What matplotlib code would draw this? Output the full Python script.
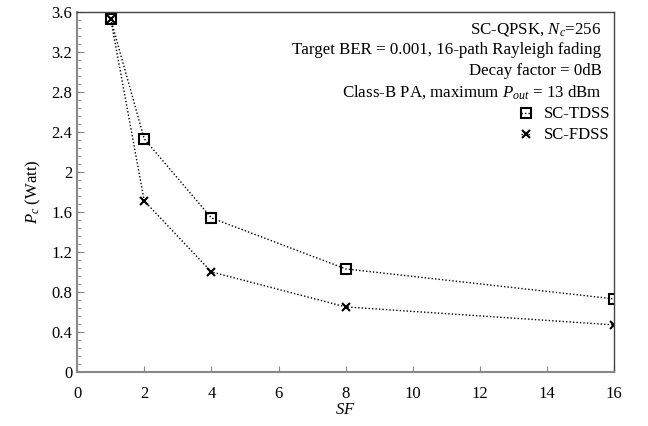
import matplotlib
matplotlib.use("Agg")
import matplotlib.pyplot as plt
from matplotlib.ticker import MultipleLocator

plt.rcParams['font.family'] = ['Liberation Serif', 'DejaVu Serif']
plt.rcParams['mathtext.fontset'] = 'custom'
plt.rcParams['mathtext.rm'] = 'Liberation Serif'
plt.rcParams['mathtext.it'] = 'Liberation Serif:italic'

sf = [1, 2, 4, 8, 16]
pc_tdss = [3.53, 2.33, 1.54, 1.03, 0.73]
pc_fdss = [3.53, 1.71, 1.00, 0.65, 0.47]

fig = plt.figure(figsize=(6.48, 4.26), dpi=100)
ax = fig.add_axes([0.119, 0.127, 0.829, 0.845])

ax.plot(sf, pc_tdss, color='black', linestyle=(0, (1, 1.5)), linewidth=1.0,
        marker='s', markersize=7, markerfacecolor='none', markeredgewidth=1.5,
        label='SC-TDSS')
ax.plot(sf, pc_fdss, color='black', linestyle=(0, (1, 1.5)), linewidth=1.0,
        marker='x', markersize=6, markeredgewidth=1.5, label='SC-FDSS')

ax.set_xlim(0, 16)
ax.set_ylim(0, 3.6)
ax.xaxis.set_major_locator(MultipleLocator(2))
ax.yaxis.set_minor_locator(MultipleLocator(0.08))
ax.set_yticks([0, 0.4, 0.8, 1.2, 1.6, 2, 2.4, 2.8, 3.2, 3.6])
ax.set_yticklabels(['0', '0.4', '0.8', '1.2', '1.6', '2', '2.4', '2.8', '3.2', '3.6'])

ax.tick_params(axis='both', which='both', direction='in', labelsize=12,
               color='#888888')
ax.tick_params(axis='y', which='major', length=5)
ax.tick_params(axis='y', which='minor', length=3)
ax.tick_params(axis='x', length=4)
ax.tick_params(axis='x', pad=10)

for side in ['left', 'bottom']:
    ax.spines[side].set_color('#888888')
    ax.spines[side].set_linewidth(1.5)
for side in ['top', 'right']:
    ax.spines[side].set_color('#444444')
    ax.spines[side].set_linewidth(1.0)

ax.set_xlabel('$\\mathit{SF}$', fontsize=12, labelpad=0)
ax.set_ylabel('$\\mathit{P_c}$ (Watt)', fontsize=12, labelpad=6)

lines = [
    'SC-QPSK, $\\mathit{N_c}$=256',
    'Target BER = 0.001, 16-path Rayleigh fading',
    'Decay factor = 0dB',
    'Class-B PA, maximum $\\mathit{P_{out}}$ = 13 dBm',
]
for i, t in enumerate(lines):
    ax.text(0.976, 0.975 - i * 0.058, t, transform=ax.transAxes,
            ha='right', va='top', fontsize=12.2)

leg = ax.legend(loc='upper right', bbox_to_anchor=(1.015, 0.77), frameon=False,
                fontsize=12, handlelength=0.6, handletextpad=0.8,
                labelspacing=0.3, borderpad=0.2)

fig.savefig('out.png', dpi=100)
